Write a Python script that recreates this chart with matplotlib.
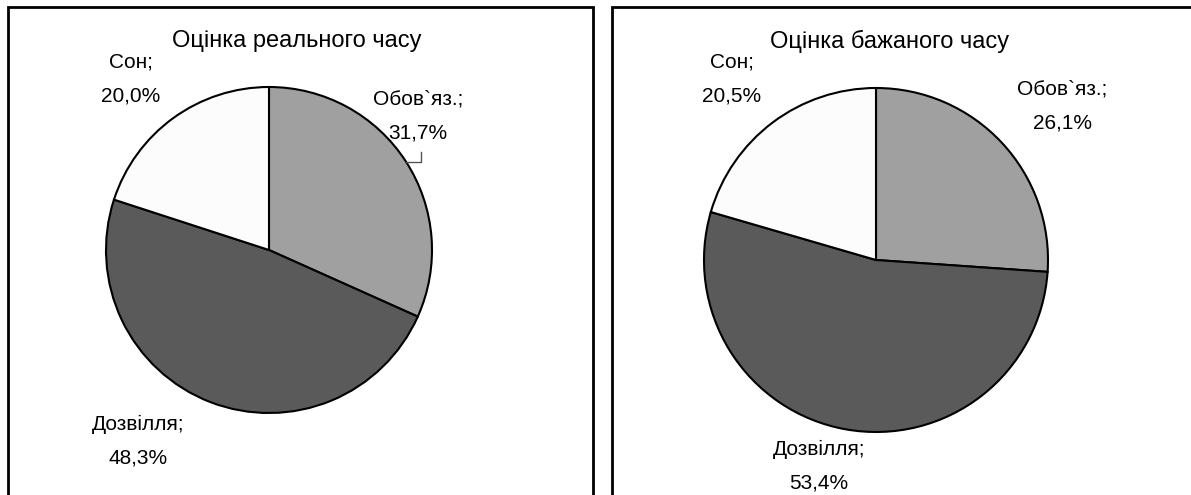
#!/usr/bin/env python3
"""Два секторні графіки: оцінка реального та бажаного часу."""

import matplotlib
matplotlib.use("Agg")
import matplotlib.pyplot as plt
from matplotlib.patches import Rectangle

W, H = 1191, 495

categories = ["Обов`яз.", "Дозвілля", "Сон"]
real_share = [31.7, 48.3, 20.0]
wish_share = [26.1, 53.4, 20.5]
titles = ["Оцінка реального часу", "Оцінка бажаного часу"]
colors = ["#a0a0a0", "#5a5a5a", "#fcfcfc"]

plt.rcParams["font.family"] = ["Liberation Sans", "DejaVu Sans"]

fig = plt.figure(figsize=(W / 100, H / 100), dpi=100)
ax = fig.add_axes([0, 0, 1, 1])
ax.set_xlim(0, W)
ax.set_ylim(0, H)
ax.set_aspect("equal")
ax.axis("off")


def py(y):
    # пікселі згори -> координати осей
    return H - y


# рамки панелей
for x0, x1 in [(8, 593), (612, 1205)]:
    ax.add_patch(Rectangle((x0, py(520)), x1 - x0, 520 - 7, fill=False,
                           edgecolor="black", linewidth=2.0, zorder=1))

panels = [
    dict(values=real_share, title=titles[0], center=(269, 250), radius=163,
         title_xy=(297, 41),
         label_xy=[(418, 116), (138, 441), (131, 79)]),
    dict(values=wish_share, title=titles[1], center=(876, 260), radius=172,
         title_xy=(890, 41),
         label_xy=[(1062, 106), (819, 466), (732, 79)]),
]

for p in panels:
    cx, cy = p["center"]
    ax.pie(p["values"], colors=colors, startangle=90, counterclock=False,
           center=(cx, py(cy)), radius=p["radius"],
           wedgeprops=dict(edgecolor="black", linewidth=1.5), frame=True)
    ax.text(p["title_xy"][0], py(p["title_xy"][1]), p["title"], fontsize=17,
            ha="center", va="center")
    for name, val, (lx, ly) in zip(categories, p["values"], p["label_xy"]):
        txt = f"{name};\n" + f"{val:.1f}".replace(".", ",") + "%"
        ax.text(lx, py(ly), txt, fontsize=15, ha="center", va="center",
                linespacing=1.95)

# виносна лінія для підпису "Обов`яз." (ліва діаграма)
ax.plot([406, 421, 421], [py(162), py(162), py(152)], color="#555555",
        linewidth=1.0)

ax.set_xlim(0, W)
ax.set_ylim(0, H)
fig.savefig("out.png", dpi=100)
